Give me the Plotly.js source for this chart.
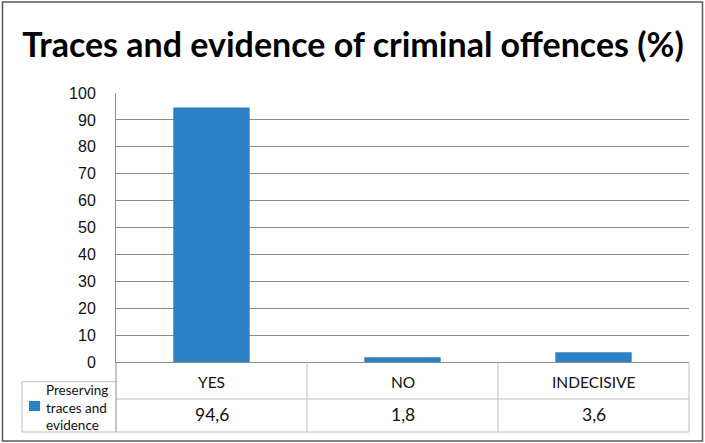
<!DOCTYPE html>
<html>
<head>
<meta charset="utf-8">
<script src="https://cdn.plot.ly/plotly-3.0.1.min.js"></script>
<style>
  html, body { margin: 0; padding: 0; background: #ffffff; }
  #chart { width: 705px; height: 443px; }
</style>
</head>
<body>
<div id="chart"></div>
<script>
// ---- data ----
var categories = ['YES', 'NO', 'INDECISIVE'];
var values = [94.6, 1.8, 3.6];
var seriesName = 'Preserving traces and evidence';
var legendLines = ['Preserving', 'traces and', 'evidence'];
var yTicks = [0, 10, 20, 30, 40, 50, 60, 70, 80, 90, 100];
var chartTitle = 'Traces and evidence of criminal offences (%)';

// ---- layout geometry (pixels) ----
var W = 705, H = 443;
var mL = 116, mR = 16, mT = 93, mB = 81;
var pw = W - mL - mR, ph = H - mT - mB;
function fx(px) { return (px - mL) / pw; }          // pixel x -> paper
function fy(py) { return (H - mB - py) / ph; }      // pixel y -> paper

var blue = '#2a81c4';
var gridCol = '#8c8c8c';
var tableCol = '#bdbdbd';
var textCol = '#111111';

var rowMid = fy(399), rowBot = fy(432), legTop = fy(381.7);
var n = categories.length;

var shapes = [];
// outer chart frame
shapes.push({type: 'rect', xref: 'paper', yref: 'paper',
  x0: fx(2.5), x1: fx(702.5), y0: fy(441), y1: fy(2),
  line: {color: '#5a5a5a', width: 1.5}, fillcolor: 'rgba(0,0,0,0)', layer: 'below'});
// table horizontal lines
shapes.push({type: 'line', xref: 'paper', yref: 'paper', x0: 0, x1: 1, y0: rowMid, y1: rowMid,
  line: {color: tableCol, width: 1}});
shapes.push({type: 'line', xref: 'paper', yref: 'paper', x0: fx(22), x1: 1, y0: rowBot, y1: rowBot,
  line: {color: tableCol, width: 1}});
shapes.push({type: 'line', xref: 'paper', yref: 'paper', x0: fx(22), x1: 0, y0: legTop, y1: legTop,
  line: {color: tableCol, width: 1}});
shapes.push({type: 'line', xref: 'paper', yref: 'paper', x0: fx(22), x1: fx(22), y0: legTop, y1: rowBot,
  line: {color: tableCol, width: 1}});
// table vertical lines at category boundaries
for (var i = 0; i <= n; i++) {
  var xp = i / n;
  shapes.push({type: 'line', xref: 'paper', yref: 'paper', x0: xp, x1: xp, y0: 0, y1: rowBot,
    line: {color: i === 0 ? gridCol : tableCol, width: 1}});
}
// legend key square
shapes.push({type: 'rect', xref: 'paper', yref: 'paper',
  x0: fx(29), x1: fx(40), y0: fy(411), y1: fy(401),
  line: {width: 0}, fillcolor: blue});

var annotations = [];
categories.forEach(function (c, i) {
  annotations.push({xref: 'x', yref: 'paper', x: c, y: fy(382.2), text: c,
    showarrow: false, xanchor: 'center', yanchor: 'middle',
    font: {family: 'Lato, sans-serif', size: 15.5, color: textCol}});
  annotations.push({xref: 'x', yref: 'paper', x: c, y: fy(414.4),
    text: String(values[i]).replace('.', ','),
    showarrow: false, xanchor: 'center', yanchor: 'middle',
    font: {family: 'Lato, sans-serif', size: 17.5, color: textCol}});
});
annotations.push({xref: 'paper', yref: 'paper', x: fx(44), y: fy(407), text: legendLines.join('<br>'),
  showarrow: false, xanchor: 'left', yanchor: 'middle', align: 'left',
  font: {family: 'Lato, sans-serif', size: 13.5, color: textCol}});

var trace = {
  type: 'bar', x: categories, y: values, name: seriesName,
  marker: {color: blue, line: {width: 0}}, width: 0.4, hoverinfo: 'x+y'
};

var layout = {
  width: W, height: H,
  margin: {l: mL, r: mR, t: mT, b: mB, pad: 0},
  paper_bgcolor: '#ffffff', plot_bgcolor: '#ffffff',
  showlegend: false,
  title: {text: '<b>' + chartTitle + '</b>', x: 353 / W, xanchor: 'center', y: 0.899, yanchor: 'middle',
    font: {family: 'Lato, sans-serif', size: 34, color: '#000000'}},
  xaxis: {type: 'category', range: [-0.5, n - 0.5], showticklabels: false, ticks: '',
    showgrid: false, showline: true, linecolor: gridCol, linewidth: 1, zeroline: false, fixedrange: true},
  yaxis: {range: [0, 100], tickvals: yTicks, ticktext: yTicks.map(String),
    ticks: 'outside', ticklen: 16, tickcolor: 'rgba(0,0,0,0)',
    showgrid: true, gridcolor: gridCol, gridwidth: 1, showline: true, linecolor: gridCol,
    zeroline: false,
    tickfont: {family: 'Liberation Sans, Arial, sans-serif', size: 16, color: textCol}, fixedrange: true},
  shapes: shapes,
  annotations: annotations,
  bargap: 0.6
};

Plotly.newPlot('chart', [trace], layout, {displayModeBar: false, staticPlot: true});
</script>
</body>
</html>
